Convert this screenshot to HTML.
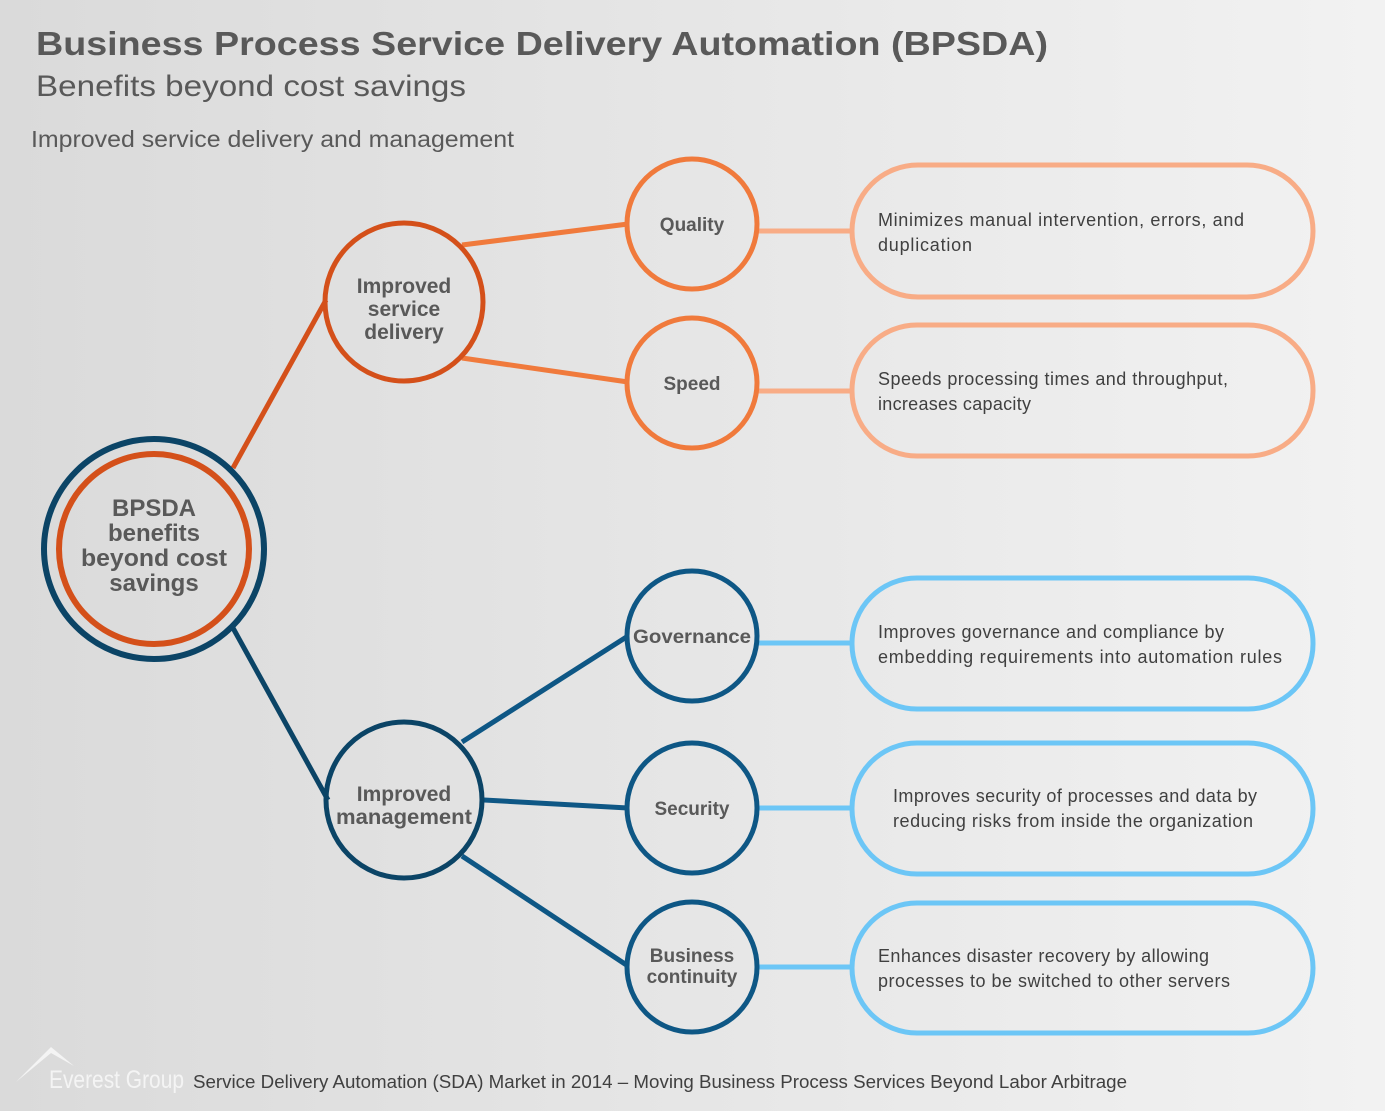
<!DOCTYPE html>
<html><head><meta charset="utf-8"><style>
body{margin:0;width:1385px;height:1111px;overflow:hidden;background:linear-gradient(90deg,#dadada,#f2f2f2);font-family:"Liberation Sans",sans-serif}
svg{position:absolute;left:0;top:0}
</style></head><body>
<svg width="1385" height="1111" viewBox="0 0 1385 1111" font-family="Liberation Sans, sans-serif">
<text x="36" y="55" font-size="33" font-weight="bold" fill="#595959" textLength="1012" lengthAdjust="spacingAndGlyphs">Business Process Service Delivery Automation (BPSDA)</text>
<text x="36" y="96" font-size="30" fill="#595959" textLength="430" lengthAdjust="spacingAndGlyphs">Benefits beyond cost savings</text>
<text x="31" y="147" font-size="23" fill="#595959" textLength="483" lengthAdjust="spacingAndGlyphs">Improved service delivery and management</text>
<g stroke-width="5" fill="none">
<line x1="233" y1="468" x2="326" y2="300" stroke="#d4501a"/>
<line x1="233" y1="628" x2="328" y2="800" stroke="#0b4466"/>
<line x1="462" y1="245" x2="628" y2="224" stroke="#f07a3c"/>
<line x1="462" y1="358" x2="628" y2="382" stroke="#f07a3c"/>
<line x1="462" y1="742" x2="628" y2="636" stroke="#0e5785"/>
<line x1="484" y1="800" x2="628" y2="808" stroke="#0e5785"/>
<line x1="462" y1="856" x2="628" y2="966" stroke="#0e5785"/>
<g stroke="#f8ac86"><line x1="757" y1="231" x2="852" y2="231"/><line x1="757" y1="391" x2="852" y2="391"/></g>
<g stroke="#6cc6f6"><line x1="757" y1="643" x2="852" y2="643"/><line x1="757" y1="808" x2="852" y2="808"/><line x1="757" y1="967" x2="852" y2="967"/></g>
<circle cx="154" cy="549" r="110" stroke="#0b4466" stroke-width="6"/>
<circle cx="154" cy="549" r="95" stroke="#d4501a" stroke-width="6"/>
<circle cx="404" cy="302" r="79" stroke="#d4501a"/>
<circle cx="404" cy="800" r="78" stroke="#0b4466"/>
<g stroke="#f07a3c"><circle cx="692" cy="224" r="65"/><circle cx="692" cy="383" r="65"/></g>
<g stroke="#0e5785"><circle cx="692" cy="636" r="65"/><circle cx="692" cy="808" r="65"/><circle cx="692" cy="967" r="65"/></g>
<g stroke="#f8ac86"><rect x="852" y="165" width="461" height="132" rx="66"/><rect x="852" y="325" width="461" height="131" rx="65"/></g>
<g stroke="#6cc6f6"><rect x="852" y="578" width="461" height="131" rx="65"/><rect x="852" y="743" width="461" height="131" rx="65"/><rect x="852" y="903" width="461" height="130" rx="65"/></g>
</g>
<g fill="#595959" font-weight="bold" text-anchor="middle">
<g font-size="24"><text x="154" y="516">BPSDA</text><text x="154" y="541">benefits</text><text x="154" y="566" textLength="146" lengthAdjust="spacingAndGlyphs">beyond cost</text><text x="154" y="591">savings</text></g>
<g font-size="21"><text x="404" y="293">Improved</text><text x="404" y="316">service</text><text x="404" y="339">delivery</text>
<text x="404" y="801">Improved</text><text x="404" y="824" textLength="136" lengthAdjust="spacingAndGlyphs">management</text></g>
<g font-size="19"><text x="692" y="231">Quality</text><text x="692" y="390">Speed</text><text x="692" y="643" textLength="118" lengthAdjust="spacingAndGlyphs">Governance</text><text x="692" y="815">Security</text><text x="692" y="962">Business</text><text x="692" y="983">continuity</text></g>
</g>
<g fill="#404040" font-size="18" lengthAdjust="spacingAndGlyphs">
<text x="878" y="226" textLength="366">Minimizes manual intervention, errors, and</text><text x="878" y="251" textLength="94">duplication</text>
<text x="878" y="385" textLength="350">Speeds processing times and throughput,</text><text x="878" y="410" textLength="153">increases capacity</text>
<text x="878" y="638" textLength="346">Improves governance and compliance by</text><text x="878" y="663" textLength="404">embedding requirements into automation rules</text>
<text x="893" y="802" textLength="364">Improves security of processes and data by</text><text x="893" y="827" textLength="360">reducing risks from inside the organization</text>
<text x="878" y="962" textLength="331">Enhances disaster recovery by allowing</text><text x="878" y="987" textLength="352">processes to be switched to other servers</text>
</g>
<polygon points="16,1082 51,1047 74,1066 51,1053" fill="#f4f4f4"/>
<text x="49" y="1088" font-size="25" fill="#f4f4f4" textLength="135" lengthAdjust="spacingAndGlyphs">Everest Group</text>
<text x="193" y="1088" font-size="18" fill="#404040" textLength="934" lengthAdjust="spacingAndGlyphs">Service Delivery Automation (SDA) Market in 2014 – Moving Business Process Services Beyond Labor Arbitrage</text>
</svg>
</body></html>
